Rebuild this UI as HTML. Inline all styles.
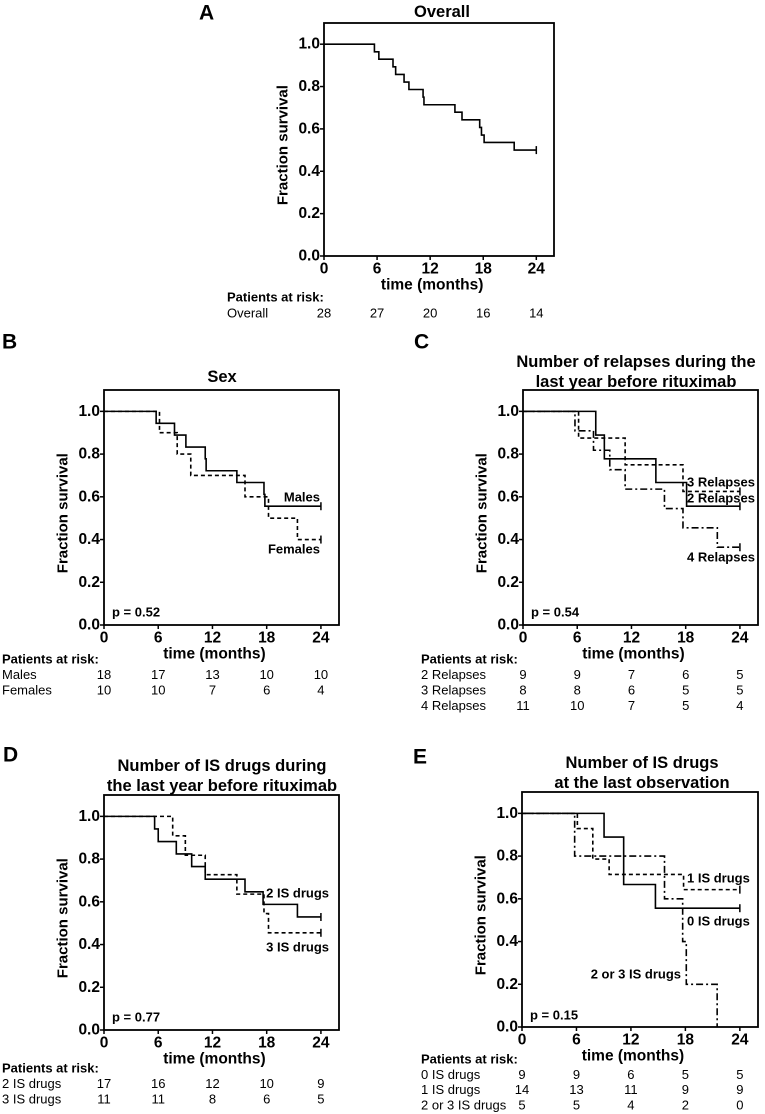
<!DOCTYPE html>
<html><head><meta charset="utf-8"><style>
html,body{margin:0;padding:0;background:#fff;}
svg{display:block;font-family:"Liberation Sans",Arial,sans-serif;}
</style></head><body>
<svg id="fig" width="765" height="1114" viewBox="0 0 765 1114"></svg>
<script>
// ---- data ----
const xTicks = [0, 6, 12, 18, 24];
const yTicks = [0, 0.2, 0.4, 0.6, 0.8, 1.0];
const yTickLabels = ["0.0", "0.2", "0.4", "0.6", "0.8", "1.0"];
// Panel A
const aOverallT = [0, 5.7, 6.2, 7.8, 8.1, 9.05, 9.6, 11.2, 11.3, 14.8, 15.6, 17.6, 17.8, 18.1, 21.5, 24];
const aOverallS = [1, 0.964, 0.929, 0.893, 0.857, 0.821, 0.786, 0.75, 0.714, 0.679, 0.643, 0.607, 0.571, 0.536, 0.5, 0.5];
const aRisk = [28, 27, 20, 16, 14];
// Panel B
const bMalesT = [0, 5.77, 7.8, 9.06, 11.2, 11.3, 14.7, 17.7, 17.8, 24];
const bMalesS = [1, 0.944, 0.889, 0.833, 0.778, 0.722, 0.667, 0.611, 0.556, 0.556];
const bFemalesT = [0, 6.14, 8.1, 9.6, 15.6, 18.2, 21.4, 24];
const bFemalesS = [1, 0.9, 0.8, 0.7, 0.6, 0.5, 0.4, 0.4];
const bRiskMales = [18, 17, 13, 10, 10];
const bRiskFemales = [10, 10, 7, 6, 4];
// Panel C
const c2T = [0, 8.05, 9.0, 14.7, 18.1, 24];
const c2S = [1, 0.889, 0.778, 0.667, 0.556, 0.556];
const c3T = [0, 6.15, 11.3, 17.7, 24];
const c3S = [1, 0.875, 0.75, 0.625, 0.625];
const c4T = [0, 5.75, 7.8, 9.6, 11.3, 15.65, 17.7, 21.5, 24];
const c4S = [1, 0.909, 0.818, 0.727, 0.636, 0.545, 0.455, 0.364, 0.364];
const cRisk2 = [9, 9, 7, 6, 5];
const cRisk3 = [8, 8, 6, 5, 5];
const cRisk4 = [11, 10, 7, 5, 4];
// Panel D
const d2T = [0, 5.6, 6.0, 8.0, 9.7, 11.2, 15.6, 17.6, 21.4, 24];
const d2S = [1, 0.941, 0.882, 0.824, 0.765, 0.706, 0.647, 0.588, 0.529, 0.529];
const d3T = [0, 7.6, 9.0, 11.2, 14.7, 17.7, 18.2, 24];
const d3S = [1, 0.909, 0.818, 0.727, 0.636, 0.545, 0.455, 0.455];
const dRisk2 = [17, 16, 12, 10, 9];
const dRisk3 = [11, 11, 8, 6, 5];
// Panel E
const e0T = [0, 9.04, 11.2, 14.7, 24];
const e0S = [1, 0.889, 0.667, 0.556, 0.556];
const e1T = [0, 6.1, 7.8, 9.6, 17.8, 24];
const e1S = [1, 0.929, 0.786, 0.714, 0.643, 0.643];
const e23T = [0, 5.8, 15.7, 17.7, 18.1, 21.5];
const e23S = [1, 0.8, 0.6, 0.4, 0.2, 0];
const eRisk0 = [9, 9, 6, 5, 5];
const eRisk1 = [14, 13, 11, 9, 9];
const eRisk23 = [5, 5, 4, 2, 0];

// ---- drawing ----
const NS = "http://www.w3.org/2000/svg";
const svg = document.getElementById("fig");
function mk(tag, attrs, parent) {
  const e = document.createElementNS(NS, tag);
  for (const k in attrs) e.setAttribute(k, attrs[k]);
  (parent || svg).appendChild(e);
  return e;
}
function txt(s, x, y, size, weight, anchor, parent, name) {
  const t = mk("text", {x: x, y: y, "font-size": size, "font-weight": weight, "text-anchor": anchor, "dominant-baseline": "central", fill: "#000"}, parent);
  t.textContent = s;
  
  
  return t;
}
const DASH = {solid: null, dashed: "4,3", dashdot: "7,3,2,3"};

function panel(p) {
  const g = mk("g", {});
  
  
  const sx = v => p.left + v / 26 * p.w;
  const sy = v => p.top + p.h - v / 1.1 * p.h;
  const bottom = p.top + p.h;
  txt(p.letter, p.letterX, p.letterY, 21, "bold", "start", g, "panel-letter");
  p.title.forEach((line, i) => txt(line, p.titleX, p.titleY + i * 20, 16.5, "bold", "middle", g, "chart-title"));
  const box = mk("rect", {x: p.left, y: p.top, width: p.w, height: p.h, fill: "none", stroke: "#000", "stroke-width": 1.8}, g);
  
  
  yTicks.forEach((v, i) => {
    mk("line", {x1: p.left - 4, x2: p.left, y1: sy(v), y2: sy(v), stroke: "#000", "stroke-width": 1.5}, g);
    txt(yTickLabels[i], p.left - 4, sy(v), 15.5, "bold", "end", g, "y-tick-label");
  });
  xTicks.forEach(v => {
    mk("line", {x1: sx(v), x2: sx(v), y1: bottom, y2: bottom + 4, stroke: "#000", "stroke-width": 1.5}, g);
    txt(String(v), sx(v), bottom + 13, 15.5, "bold", "middle", g, "x-tick-label");
  });
  txt("time (months)", sx(12) + 2, bottom + 29, 15.5, "bold", "middle", g, "x-axis-title");
  const yt = txt("Fraction survival", 0, 0, 15, "bold", "middle", g, "y-axis-title");
  const yc = (sy(0) + sy(1)) / 2 - 5;
  yt.setAttribute("transform", `translate(${p.left - 41},${yc}) rotate(-90)`);
  p.series.forEach(s => {
    let d = `M${sx(s.t[0])},${sy(s.s[0])}`;
    for (let i = 1; i < s.t.length; i++) {
      d += ` H${sx(s.t[i])} V${sy(s.s[i])}`;
    }
    const path = mk("path", {d: d, fill: "none", stroke: "#000", "stroke-width": 1.6}, g);
    if (DASH[s.style]) path.setAttribute("stroke-dasharray", DASH[s.style]);
    
    
    if (s.censor) {
      const lx = sx(s.t[s.t.length - 1]), ly = sy(s.s[s.s.length - 1]);
      mk("line", {x1: lx, x2: lx, y1: ly - 4, y2: ly + 4, stroke: "#000", "stroke-width": 1.5}, g);
    }
  });
  (p.labels || []).forEach(l => txt(l.text, l.x, l.y, 13, "bold", l.anchor, g, "series-label"));
  if (p.pval) txt(p.pval, p.left + 8, p.pY, 13, "bold", "start", g, "p-value");
  txt("Patients at risk:", p.tableX, p.tableY, 13, "bold", "start", g, "risk-table-header");
  p.risk.forEach((r, ri) => {
    const y = p.tableY + (ri + 1) * p.rowH;
    txt(r.label, p.tableX, y, 13, "normal", "start", g, "risk-row-label");
    r.vals.forEach((v, i) => txt(String(v), sx(xTicks[i]), y, 13, "normal", "middle", g, "risk-value"));
  });
}

panel({name: "panel-a-overall", letter: "A", letterX: 199, letterY: 13, title: ["Overall"], titleX: 442, titleY: 12,
  left: 324, top: 23, w: 230, h: 233,
  series: [{t: aOverallT, s: aOverallS, style: "solid", censor: true, name: "overall-curve"}],
  tableX: 227, tableY: 297, rowH: 16, risk: [{label: "Overall", vals: aRisk}]});

panel({name: "panel-b-sex", letter: "B", letterX: 2, letterY: 342, title: ["Sex"], titleX: 222, titleY: 377,
  left: 104, top: 390, w: 235, h: 235,
  series: [{t: bMalesT, s: bMalesS, style: "solid", censor: true, name: "males-curve"},
           {t: bFemalesT, s: bFemalesS, style: "dashed", censor: true, name: "females-curve"}],
  labels: [{text: "Males", x: 320, y: 497, anchor: "end"}, {text: "Females", x: 320, y: 549, anchor: "end"}],
  pval: "p = 0.52", pY: 612,
  tableX: 2, tableY: 659, rowH: 15.5,
  risk: [{label: "Males", vals: bRiskMales}, {label: "Females", vals: bRiskFemales}]});

panel({name: "panel-c-relapses", letter: "C", letterX: 414, letterY: 342,
  title: ["Number of relapses during the", "last year before rituximab"], titleX: 636, titleY: 362,
  left: 523, top: 390, w: 235, h: 235,
  series: [{t: c2T, s: c2S, style: "solid", censor: true, name: "2-relapses-curve"},
           {t: c3T, s: c3S, style: "dashed", censor: true, name: "3-relapses-curve"},
           {t: c4T, s: c4S, style: "dashdot", censor: true, name: "4-relapses-curve"}],
  labels: [{text: "3 Relapses", x: 687, y: 482, anchor: "start"}, {text: "2 Relapses", x: 687, y: 498, anchor: "start"},
           {text: "4 Relapses", x: 687, y: 557, anchor: "start"}],
  pval: "p = 0.54", pY: 612,
  tableX: 421, tableY: 659, rowH: 15.5,
  risk: [{label: "2 Relapses", vals: cRisk2}, {label: "3 Relapses", vals: cRisk3}, {label: "4 Relapses", vals: cRisk4}]});

panel({name: "panel-d-is-drugs-before", letter: "D", letterX: 3, letterY: 755,
  title: ["Number of IS drugs during", "the last year before rituximab"], titleX: 222, titleY: 766,
  left: 104, top: 795, w: 235, h: 235,
  series: [{t: d2T, s: d2S, style: "solid", censor: true, name: "2-is-drugs-curve"},
           {t: d3T, s: d3S, style: "dashed", censor: true, name: "3-is-drugs-curve"}],
  labels: [{text: "2 IS drugs", x: 329, y: 893, anchor: "end"}, {text: "3 IS drugs", x: 329, y: 947, anchor: "end"}],
  pval: "p = 0.77", pY: 1017,
  tableX: 2, tableY: 1068, rowH: 15.5,
  risk: [{label: "2 IS drugs", vals: dRisk2}, {label: "3 IS drugs", vals: dRisk3}]});

panel({name: "panel-e-is-drugs-last", letter: "E", letterX: 413, letterY: 757,
  title: ["Number of IS drugs", "at the last observation"], titleX: 642, titleY: 763,
  left: 522, top: 792, w: 236, h: 235,
  series: [{t: e0T, s: e0S, style: "solid", censor: true, name: "0-is-drugs-curve"},
           {t: e1T, s: e1S, style: "dashed", censor: true, name: "1-is-drugs-curve"},
           {t: e23T, s: e23S, style: "dashdot", censor: false, name: "2-or-3-is-drugs-curve"}],
  labels: [{text: "1 IS drugs", x: 687, y: 878, anchor: "start"}, {text: "0 IS drugs", x: 687, y: 921, anchor: "start"},
           {text: "2 or 3 IS drugs", x: 681, y: 974, anchor: "end"}],
  pval: "p = 0.15", pY: 1015,
  tableX: 421, tableY: 1059, rowH: 15.3,
  risk: [{label: "0 IS drugs", vals: eRisk0}, {label: "1 IS drugs", vals: eRisk1}, {label: "2 or 3 IS drugs", vals: eRisk23}]});
</script>
</body></html>
